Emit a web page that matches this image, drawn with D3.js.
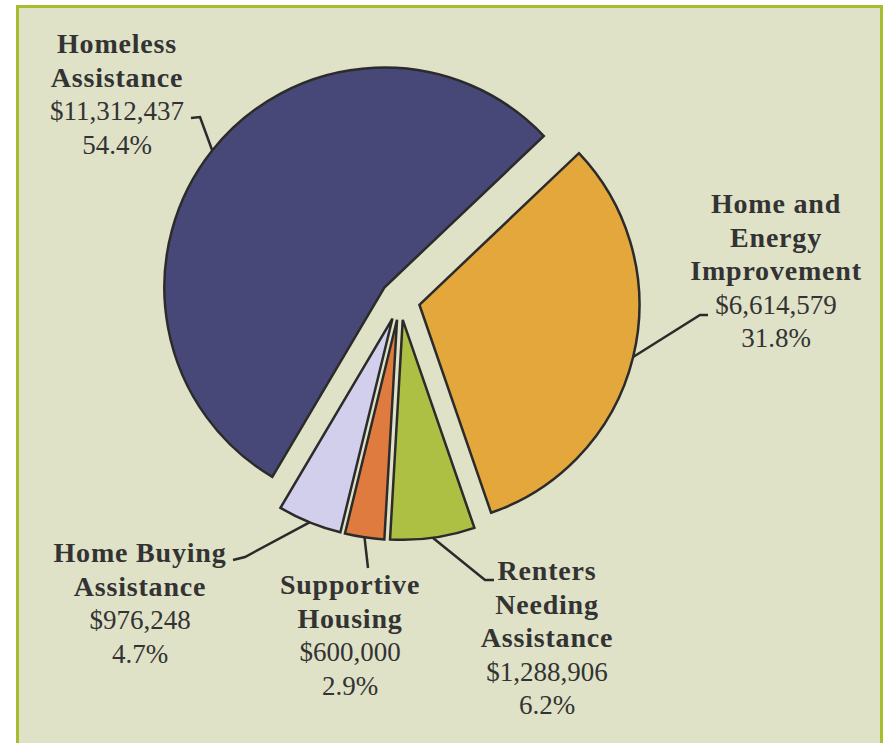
<!DOCTYPE html>
<html><head><meta charset="utf-8">
<script src="https://cdn.jsdelivr.net/npm/d3@7"></script>
<style>body{margin:0;background:#fff;overflow:hidden}</style>
</head><body><svg id="c" width="886" height="743"></svg>
<script>
// ---- data ----
const categories = ["Homeless Assistance","Home and Energy Improvement","Renters Needing Assistance","Supportive Housing","Home Buying Assistance"];
const amounts = [11312437, 6614579, 1288906, 600000, 976248];
const percents = ["54.4%","31.8%","6.2%","2.9%","4.7%"];
const nameLines = [["Homeless","Assistance"],["Home and","Energy","Improvement"],["Renters","Needing","Assistance"],["Supportive","Housing"],["Home Buying","Assistance"]];
const colors = ["#484878","#e3a73c","#aec044","#e07b3f","#d2cfec"];

// ---- layout (positions only) ----
const labelLayout = [
  {cx:117, y0:53,  elbow:[[200,117],[191,118]]},
  {cx:776, y0:213, elbow:[[700,315],[708,315]]},
  {cx:547, y0:580, elbow:[[485,580],[494,580]]},
  {cx:350, y0:594, elbow:[[368,568]]},
  {cx:140, y0:562, elbow:[[245,557],[233,560]]}
];
const W=886,H=743, cx=400, cy=300, R=220, explode=20, lineH=33.5;
const startDeg = 210.6;

const svg = d3.select("#c");
svg.append("rect").attr("x",17.5).attr("y",6.5).attr("width",864).attr("height",760)
  .attr("fill","#dfe2c7").attr("stroke","#a9bb2e").attr("stroke-width",3);

const pie = d3.pie().sort(null).value(d=>d)
  .startAngle(startDeg*Math.PI/180).endAngle((startDeg+360)*Math.PI/180);
const arcs = pie(amounts);
const arc = d3.arc().innerRadius(0).outerRadius(R);

const g = svg.append("g").attr("transform",`translate(${cx},${cy})`);
arcs.forEach((a,i)=>{
  const mid=(a.startAngle+a.endAngle)/2;
  a.dx=Math.sin(mid)*explode; a.dy=-Math.cos(mid)*explode; a.mid=mid;
});
g.selectAll("path.slice").data(arcs).join("path").attr("class","slice")
  .attr("transform",d=>`translate(${d.dx},${d.dy})`)
  .attr("d",arc).attr("fill",(d,i)=>colors[i])
  .attr("stroke","#2b2b2b").attr("stroke-width",2.5).attr("stroke-linejoin","miter");

// leaders
const line = d3.line();
arcs.forEach((a,i)=>{
  const p0=[cx+a.dx+Math.sin(a.mid)*R, cy+a.dy-Math.cos(a.mid)*R];
  svg.append("path").attr("d",line([p0,...labelLayout[i].elbow]))
    .attr("fill","none").attr("stroke","#2b2b2b").attr("stroke-width",2.5);
});

// labels
const fmt = d3.format("$,");
categories.forEach((c,i)=>{
  const L=labelLayout[i];
  const t=svg.append("text").attr("text-anchor","middle")
    .attr("font-family","'Liberation Serif', 'Times New Roman', serif").attr("fill","#333333");
  let k=0;
  nameLines[i].forEach(s=>{
    t.append("tspan").attr("x",L.cx).attr("y",L.y0+lineH*(k++)).attr("font-weight","bold")
      .attr("font-size",28).attr("letter-spacing",0.8).text(s);
  });
  t.append("tspan").attr("x",L.cx).attr("y",L.y0+lineH*(k++)).attr("font-size",27).text(fmt(amounts[i]));
  t.append("tspan").attr("x",L.cx).attr("y",L.y0+lineH*(k++)).attr("font-size",27).text(percents[i]);
});
</script></body></html>
